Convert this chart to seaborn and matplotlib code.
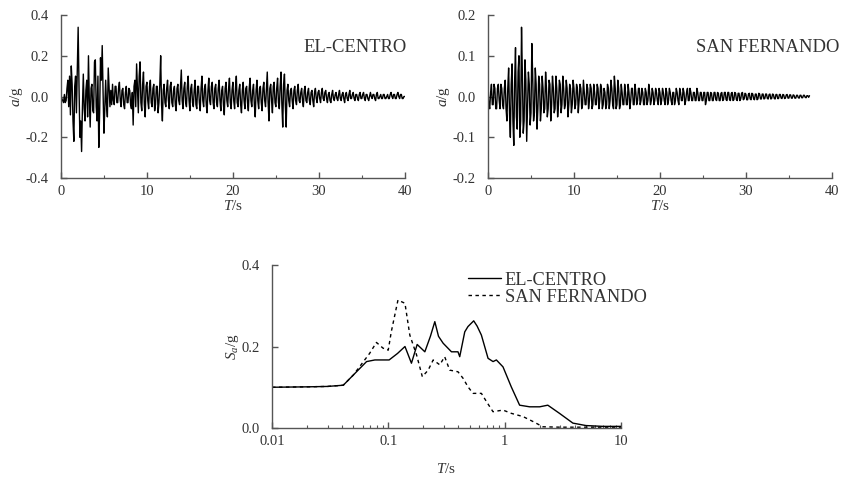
import numpy as np
import pandas as pd
import matplotlib
matplotlib.use("Agg")
import matplotlib.pyplot as plt
import seaborn as sns
from matplotlib.ticker import MultipleLocator, LogLocator, NullFormatter, FixedLocator

sns.set_theme(style="ticks")
plt.rcParams['font.family'] = ['Liberation Serif', 'DejaVu Serif']
plt.rcParams['mathtext.fontset'] = 'custom'
plt.rcParams['mathtext.rm'] = 'Liberation Serif'
plt.rcParams['mathtext.it'] = 'Liberation Serif:italic'
plt.rcParams['axes.unicode_minus'] = False

# ---------------- data ----------------
dt_record = 0.1  # s, sampling of the digitised records

# EL-CENTRO accelerogram (a/g), every 0.1 s from 0 s (one row = 1 s)
acc_elcentro = [
    0.00, -0.01, -0.02, -0.03, 0.01, -0.03, -0.02, 0.04, 0.08, -0.05,
    0.10, -0.09, 0.15, 0.06, -0.12, -0.22, 0.05, 0.10, -0.08, 0.12,
    0.34, 0.05, -0.20, -0.12, -0.27, -0.05, 0.11, -0.06, -0.12, 0.03,
    0.08, -0.10, 0.20, -0.02, -0.15, 0.04, 0.06, -0.07, -0.08, 0.17,
    0.18, -0.05, -0.12, 0.10, -0.25, -0.08, 0.19, 0.08, 0.25, 0.02,
    -0.18, -0.06, 0.08, -0.04, -0.10, 0.14, 0.05, -0.05, 0.03, -0.04,
    0.06, -0.02, -0.04, 0.05, 0.05, -0.03, -0.03, 0.04, 0.07, -0.02,
    -0.05, 0.03, 0.04, -0.04, -0.06, 0.02, 0.05, -0.03, -0.03, 0.04,
    0.03, -0.04, -0.06, 0.02, -0.14, 0.05, 0.08, -0.05, 0.16, 0.04,
    -0.08, 0.10, 0.17, -0.03, -0.07, 0.06, 0.12, -0.04, -0.10, 0.05,
    0.07, -0.02, -0.06, 0.05, 0.08, -0.03, -0.05, 0.04, 0.06, -0.07,
    -0.04, 0.05, 0.05, -0.08, -0.03, 0.06, 0.20, -0.04, -0.12, 0.03,
    0.06, -0.03, -0.05, 0.04, 0.08, -0.02, -0.06, 0.05, 0.07, -0.03,
    -0.05, 0.03, 0.05, -0.04, -0.07, 0.04, 0.06, -0.02, -0.04, 0.05,
    0.13, -0.02, -0.06, 0.04, 0.07, -0.03, -0.05, 0.05, 0.10, -0.02,
    -0.07, 0.04, 0.06, -0.03, -0.05, 0.03, 0.08, -0.04, -0.06, 0.05,
    0.05, -0.03, -0.07, 0.04, 0.10, -0.02, -0.05, 0.04, 0.06, -0.04,
    -0.08, 0.03, 0.09, -0.02, -0.04, 0.05, 0.07, -0.03, -0.06, 0.04,
    0.06, -0.03, -0.05, 0.04, 0.08, -0.02, -0.07, 0.03, 0.05, -0.04,
    -0.09, 0.04, 0.07, -0.02, -0.05, 0.04, 0.09, -0.03, -0.06, 0.03,
    0.07, -0.02, -0.06, 0.04, 0.10, -0.03, -0.05, 0.03, 0.06, -0.04,
    -0.08, 0.03, 0.07, -0.02, -0.06, 0.04, 0.05, -0.03, -0.07, 0.04,
    0.09, -0.02, -0.05, 0.03, 0.06, -0.04, -0.10, 0.03, 0.08, -0.02,
    -0.06, 0.04, 0.05, -0.03, -0.07, 0.04, 0.07, -0.02, -0.05, 0.03,
    0.12, -0.03, -0.12, 0.04, 0.06, -0.02, -0.08, 0.05, 0.07, -0.03,
    -0.05, 0.04, 0.09, -0.03, -0.06, 0.05, 0.12, -0.04, -0.15, 0.06,
    0.11, -0.04, -0.15, 0.03, 0.06, -0.02, -0.05, 0.03, 0.04, -0.02,
    -0.06, 0.03, 0.05, -0.02, -0.04, 0.03, 0.06, -0.02, -0.03, 0.02,
    0.04, -0.02, -0.05, 0.03, 0.05, -0.02, -0.03, 0.02, 0.04, -0.02,
    -0.04, 0.02, 0.03, -0.02, -0.05, 0.02, 0.04, -0.01, -0.03, 0.02,
    0.03, -0.01, -0.03, 0.02, 0.04, -0.01, -0.02, 0.02, 0.03, -0.01,
    -0.03, 0.01, 0.02, -0.02, -0.03, 0.01, 0.03, -0.01, -0.02, 0.01,
    0.02, -0.01, -0.02, 0.01, 0.03, -0.01, -0.02, 0.01, 0.02, -0.01,
    -0.03, 0.01, 0.02, -0.01, -0.02, 0.01, 0.03, -0.01, -0.01, 0.01,
    0.02, -0.01, -0.02, 0.01, 0.01, -0.01, -0.02, 0.01, 0.02, -0.01,
    -0.01, 0.01, 0.02, -0.01, -0.02, 0.01, 0.01, -0.01, -0.02, 0.00,
    0.02, 0.00, -0.01, 0.01, 0.01, -0.01, -0.02, 0.01, 0.02, -0.01,
    -0.01, 0.00, 0.01, -0.01, -0.01, 0.01, 0.01, -0.01, -0.01, 0.00,
    0.01, -0.01, -0.01, 0.01, 0.02, 0.00, -0.01, 0.01, 0.01, -0.01,
    -0.01, 0.01, 0.02, 0.00, -0.01, 0.01, 0.01, -0.01, -0.01, 0.00,
    0.00,
]

# SAN FERNANDO accelerogram (a/g), every 0.1 s from 0 s (one row = 1 s)
acc_sanfernando = [
    0.02, -0.02, -0.03, 0.01, 0.03, -0.02, -0.02, 0.03, 0.02, -0.03,
    -0.03, 0.02, 0.03, -0.01, -0.03, 0.03, 0.02, -0.02, -0.03, 0.02,
    0.04, -0.03, -0.06, 0.02, 0.07, -0.04, -0.10, 0.03, 0.08, -0.06,
    -0.12, 0.04, 0.12, -0.05, -0.08, 0.06, 0.10, -0.10, -0.06, 0.17,
    0.05, -0.09, -0.06, 0.09, 0.04, -0.11, -0.03, 0.06, 0.03, -0.07,
    -0.04, 0.13, 0.05, -0.06, -0.04, 0.07, 0.03, -0.08, -0.03, 0.05,
    0.03, -0.06, -0.03, 0.05, 0.02, -0.04, -0.03, 0.06, 0.02, -0.05,
    -0.03, 0.04, 0.03, -0.06, -0.02, 0.05, 0.02, -0.04, -0.03, 0.05,
    0.02, -0.05, -0.02, 0.04, 0.03, -0.04, -0.02, 0.05, 0.02, -0.03,
    -0.02, 0.04, 0.02, -0.05, -0.02, 0.03, 0.02, -0.04, -0.02, 0.04,
    0.02, -0.03, -0.02, 0.03, 0.02, -0.04, -0.01, 0.03, 0.02, -0.03,
    -0.02, 0.04, 0.01, -0.02, -0.02, 0.03, 0.02, -0.03, -0.01, 0.03,
    0.02, -0.03, -0.02, 0.03, 0.01, -0.02, -0.02, 0.03, 0.02, -0.03,
    -0.01, 0.03, 0.02, -0.03, -0.02, 0.02, 0.01, -0.03, -0.02, 0.03,
    0.02, -0.03, -0.01, 0.04, 0.02, -0.02, -0.03, 0.05, 0.02, -0.03,
    -0.02, 0.04, 0.02, -0.03, -0.02, 0.03, 0.01, -0.02, -0.02, 0.03,
    0.01, -0.02, -0.02, 0.03, 0.01, -0.03, -0.01, 0.02, 0.02, -0.02,
    -0.02, 0.03, 0.01, -0.02, -0.01, 0.02, 0.02, -0.02, -0.01, 0.02,
    0.01, -0.02, -0.02, 0.02, 0.01, -0.02, -0.01, 0.03, 0.01, -0.02,
    -0.01, 0.02, 0.01, -0.02, -0.01, 0.02, 0.01, -0.01, -0.02, 0.02,
    0.01, -0.02, -0.01, 0.02, 0.01, -0.01, -0.02, 0.02, 0.01, -0.02,
    -0.01, 0.02, 0.01, -0.01, -0.02, 0.01, 0.01, -0.02, -0.01, 0.02,
    0.01, -0.01, -0.02, 0.02, 0.01, -0.01, -0.01, 0.02, 0.01, -0.02,
    -0.01, 0.01, 0.02, -0.01, -0.01, 0.02, 0.01, -0.01, -0.01, 0.01,
    0.01, -0.01, -0.01, 0.02, 0.01, -0.01, -0.01, 0.01, 0.01, -0.01,
    -0.01, 0.01, 0.01, -0.02, -0.01, 0.01, 0.01, -0.01, -0.01, 0.01,
    0.008, -0.01, -0.01, 0.01, 0.01, -0.008, -0.01, 0.01, 0.008, -0.01,
    -0.01, 0.008, 0.01, -0.01, -0.008, 0.01, 0.01, -0.008, -0.01, 0.01,
    0.01, -0.008, -0.01, 0.008, 0.01, -0.01, -0.008, 0.01, 0.008, -0.008,
    -0.01, 0.008, 0.008, -0.01, -0.006, 0.008, 0.01, -0.008, -0.006, 0.008,
    0.006, -0.008, -0.008, 0.006, 0.008, -0.006, -0.008, 0.008, 0.006, -0.006,
    -0.008, 0.006, 0.006, -0.008, -0.006, 0.008, 0.006, -0.006, -0.006, 0.006,
    0.006, -0.006, -0.005, 0.006, 0.006, -0.005, -0.006, 0.005, 0.006, -0.006,
    -0.005, 0.006, 0.005, -0.005, -0.006, 0.005, 0.005, -0.005, -0.005, 0.005,
    0.005, -0.004, -0.005, 0.005, 0.004, -0.005, -0.004, 0.004, 0.005, -0.004,
    -0.004, 0.004, 0.004, -0.004, -0.004, 0.004, 0.003, -0.004, -0.004, 0.003,
    0.003, -0.003, -0.004, 0.003, 0.003, -0.003, -0.003, 0.003, 0.003, -0.002,
    -0.003, 0.002, 0.002, -0.002, 0.002,
]

# Response spectra (Sa/g vs period T in s)
T_elcentro = [0.01, 0.02, 0.03, 0.041, 0.05, 0.065, 0.0766, 0.0875, 0.1016, 0.12, 0.139,
              0.158, 0.177, 0.206, 0.23, 0.251, 0.27, 0.296, 0.349, 0.397, 0.411,
              0.454, 0.484, 0.542, 0.58, 0.631, 0.72, 0.795, 0.849, 0.968, 1.14,
              1.345, 1.64, 2.0, 2.35, 2.96, 3.86, 5.0, 7.0, 10.0]
Sa_elcentro = [0.100, 0.101, 0.102, 0.105, 0.130, 0.163, 0.167, 0.167, 0.167, 0.183, 0.200,
               0.159, 0.205, 0.187, 0.225, 0.261, 0.225, 0.208, 0.187, 0.187, 0.175,
               0.236, 0.249, 0.263, 0.250, 0.228, 0.171, 0.163, 0.167, 0.150, 0.101,
               0.056, 0.052, 0.052, 0.056, 0.036, 0.012, 0.006, 0.004, 0.004]

T_sanfernando = [0.01, 0.02, 0.03, 0.041, 0.05, 0.06, 0.069, 0.079, 0.090, 0.0998, 0.106,
                 0.121, 0.139, 0.153, 0.175, 0.196, 0.22, 0.243, 0.277, 0.305, 0.337,
                 0.397, 0.439, 0.484, 0.535, 0.631, 0.697, 0.794, 0.968, 1.14, 1.44,
                 1.75, 2.13, 3.0, 5.0, 10.0]
Sa_sanfernando = [0.100, 0.101, 0.102, 0.105, 0.130, 0.160, 0.183, 0.210, 0.196, 0.191, 0.236,
                  0.314, 0.306, 0.228, 0.179, 0.126, 0.142, 0.167, 0.155, 0.175, 0.142,
                  0.138, 0.122, 0.101, 0.085, 0.085, 0.065, 0.040, 0.044, 0.036, 0.028,
                  0.016, 0.003, 0.002, 0.002, 0.002]

time_ticks = [0, 10, 20, 30, 40]
elc_yticks = [-0.4, -0.2, 0.0, 0.2, 0.4]
sf_yticks = [-0.2, -0.1, 0.0, 0.1, 0.2]
spec_yticks = [0.0, 0.2, 0.4]
spec_xticks = [0.01, 0.1, 1, 10]
spec_xticklabels = ["0.01", "0.1", "1", "10"]

# ---------------- figure ----------------
fig = plt.figure(figsize=(8.49, 4.78), dpi=100)
ax1 = fig.add_axes([0.0718, 0.6276, 0.405, 0.341])
ax2 = fig.add_axes([0.5748, 0.6276, 0.405, 0.341])
ax3 = fig.add_axes([0.3204, 0.1046, 0.411, 0.341])

spine_col = "#555555"
text_col = "#333333"
tick_fs = 10.5

def style(ax):
    sns.despine(ax=ax)
    for s in ("left", "bottom"):
        ax.spines[s].set_color(spine_col)
        ax.spines[s].set_linewidth(1.0)
    ax.tick_params(which="both", direction="in", colors=spine_col,
                   labelcolor=text_col, labelsize=tick_fs)
    ax.tick_params(which="major", length=4, width=1.0)
    ax.tick_params(which="minor", length=2, width=0.8)
    ax.tick_params(axis="y", which="both", pad=9)
    ax.tick_params(axis="x", which="both", pad=5)

def fmt(v):
    return f"{v:.1f}"

df_elc = pd.DataFrame({"t": np.arange(len(acc_elcentro)) * dt_record, "a": acc_elcentro})
df_sf = pd.DataFrame({"t": np.arange(len(acc_sanfernando)) * dt_record, "a": acc_sanfernando})

sns.lineplot(data=df_elc, x="t", y="a", ax=ax1, color="black", linewidth=1.0, sort=False)
sns.lineplot(data=df_sf, x="t", y="a", ax=ax2, color="black", linewidth=1.0, sort=False)

for ax, yt, lim, name, tx in ((ax1, elc_yticks, 0.4, "EL-CENTRO", 0.705),
                              (ax2, sf_yticks, 0.2, "SAN FERNANDO", 0.605)):
    style(ax)
    ax.set_xlim(0, 40)
    ax.set_ylim(-lim, lim)
    ax.xaxis.set_major_locator(FixedLocator(time_ticks))
    ax.xaxis.set_minor_locator(MultipleLocator(5))
    ax.set_yticks(yt)
    ax.set_yticklabels([fmt(v) for v in yt])
    ax.set_xlabel(r"$T$/s", fontsize=11, color=text_col, labelpad=1)
    ax.set_ylabel(r"$a$/g", fontsize=11, color=text_col, labelpad=0)
    ax.text(tx, 0.80, name, transform=ax.transAxes, fontsize=13.4, color=text_col,
            ha="left", va="center")

df_spec = pd.concat([
    pd.DataFrame({"T": T_elcentro, "Sa": Sa_elcentro, "rec": "EL-CENTRO"}),
    pd.DataFrame({"T": T_sanfernando, "Sa": Sa_sanfernando, "rec": "SAN FERNANDO"}),
], ignore_index=True)

sns.lineplot(data=df_spec, x="T", y="Sa", hue="rec", style="rec", ax=ax3,
             palette=["black", "black"], dashes=[(None, None), (2.5, 2.5)],
             linewidth=1.0, sort=False, estimator=None)
ax3.set_xscale("log")
style(ax3)
ax3.set_xlim(0.01, 10)
ax3.set_ylim(0, 0.4)
ax3.set_xticks(spec_xticks)
ax3.set_xticklabels(spec_xticklabels)
ax3.xaxis.set_minor_locator(LogLocator(base=10, subs=np.arange(2, 10)))
ax3.xaxis.set_minor_formatter(NullFormatter())
ax3.set_yticks(spec_yticks)
ax3.set_yticklabels([fmt(v) for v in spec_yticks])
ax3.set_xlabel(r"$T$/s", fontsize=11, color=text_col, labelpad=10)
ax3.set_ylabel(r"$S_a$/g", fontsize=11, color=text_col, labelpad=0)
leg = ax3.legend(loc="upper left", bbox_to_anchor=(0.562, 0.96), frameon=False,
                 borderaxespad=0, borderpad=0,
                 fontsize=13.2, handlelength=1.8, labelspacing=0.0, handletextpad=0.2,
                 labelcolor=text_col)
leg.set_title(None)

fig.savefig("out.png", dpi=100)
